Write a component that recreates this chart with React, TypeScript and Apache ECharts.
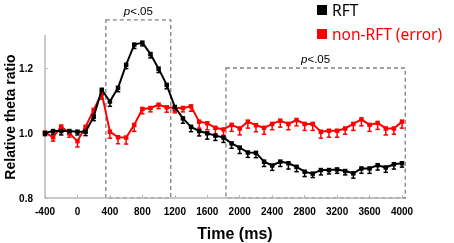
import React, { useEffect, useRef } from "react";
import * as echarts from "echarts";

const times = [
  -400, -300, -200, -100, 0, 100, 200, 300, 400, 500, 600, 700, 800, 900, 1000,
  1100, 1200, 1300, 1400, 1500, 1600, 1700, 1800, 1900, 2000, 2100, 2200, 2300,
  2400, 2500, 2600, 2700, 2800, 2900, 3000, 3100, 3200, 3300, 3400, 3500, 3600,
  3700, 3800, 3900, 4000,
];

const rftValues = [
  1.0, 1.006, 1.006, 1.006, 1.004, 1.004, 1.05, 1.133, 1.097, 1.139, 1.21, 1.272,
  1.278, 1.243, 1.198, 1.148, 1.08, 1.045, 1.019, 1.006, 0.999, 0.992, 0.986,
  0.968, 0.955, 0.94, 0.939, 0.912, 0.9, 0.912, 0.907, 0.896, 0.881, 0.875,
  0.886, 0.886, 0.888, 0.883, 0.876, 0.891, 0.891, 0.901, 0.894, 0.904, 0.907,
];

const rftErrors = [
  0.008, 0.01, 0.012, 0.01, 0.01, 0.012, 0.012, 0.015, 0.015, 0.012, 0.012,
  0.012, 0.01, 0.012, 0.012, 0.012, 0.012, 0.015, 0.015, 0.015, 0.018, 0.015,
  0.015, 0.015, 0.018, 0.015, 0.015, 0.015, 0.015, 0.015, 0.018, 0.015, 0.015,
  0.012, 0.015, 0.012, 0.012, 0.012, 0.015, 0.015, 0.015, 0.015, 0.015, 0.015,
  0.012,
];

const nonRftValues = [
  1.001, 0.987, 1.02, 0.999, 0.975, 1.019, 1.071, 1.122, 1.004, 0.987, 0.986,
  1.025, 1.074, 1.077, 1.087, 1.079, 1.077, 1.077, 1.082, 1.035, 1.03, 1.016,
  1.011, 1.025, 1.014, 1.035, 1.024, 1.016, 1.028, 1.038, 1.028, 1.04, 1.028,
  1.028, 1.004, 1.007, 1.007, 1.014, 1.028, 1.042, 1.025, 1.031, 1.014, 1.014,
  1.035,
];

const nonRftErrors = [
  0.005, 0.012, 0.015, 0.012, 0.018, 0.015, 0.015, 0.018, 0.02, 0.02, 0.02,
  0.02, 0.015, 0.012, 0.012, 0.015, 0.015, 0.012, 0.015, 0.02, 0.02, 0.02,
  0.018, 0.02, 0.02, 0.02, 0.02, 0.02, 0.018, 0.02, 0.018, 0.018, 0.02, 0.02,
  0.02, 0.02, 0.02, 0.018, 0.02, 0.02, 0.02, 0.02, 0.02, 0.018, 0.02,
];

// significance windows: [startMs, top, endMs, bottom]
const sigBoxes = [
  [350, 1.348, 1150, 0.8],
  [1830, 1.2, 4040, 0.8],
];
const sigLabel = "<.05";

const yTicks = [0.8, 1.0, 1.2];

const seriesNames = ["RFT", "non-RFT (error)"];
const seriesColors = ["#000000", "#ff0000"];

function errorBarSeries(values: number[], errors: number[], color: string) {
  return {
    type: "custom",
    silent: true,
    z: 1,
    data: times.map((t, i) => [t, values[i], errors[i]]),
    encode: { x: 0, y: 1 },
    renderItem: (_p: any, api: any) => {
      const x = api.value(0);
      const y = api.value(1);
      const e = api.value(2);
      const p0 = api.coord([x, y]);
      const p1 = api.coord([x, y - e]);
      return {
        type: "group",
        children: [
          {
            type: "line",
            shape: { x1: p0[0], y1: p0[1], x2: p1[0], y2: p1[1] },
            style: { stroke: color, lineWidth: 1.5 },
          },
          {
            type: "line",
            shape: { x1: p1[0] - 2.2, y1: p1[1], x2: p1[0] + 2.2, y2: p1[1] },
            style: { stroke: color, lineWidth: 1.5 },
          },
        ],
      };
    },
  };
}

export default function App() {
  const ref = useRef<HTMLDivElement>(null);

  useEffect(() => {
    if (!ref.current) return;
    const chart = echarts.init(ref.current, null, { renderer: "svg" });
    const tickFont = {
      fontFamily: '"Liberation Sans Narrow", "Liberation Sans", Arial, sans-serif',
      fontWeight: "bold" as const,
      fontSize: 10,
      color: "#000",
    };
    chart.setOption({
      animation: false,
      grid: { left: 45, right: 52, top: 35.5, bottom: 45, containLabel: false },
      legend: {
        orient: "vertical",
        left: 317,
        top: 2,
        padding: 0,
        itemWidth: 10,
        itemHeight: 10,
        itemGap: 8,
        icon: "rect",
        textStyle: {
          fontFamily: '"Noto Sans", sans-serif',
          fontSize: 15.5,
          lineHeight: 16,
        },
        data: [
          { name: seriesNames[0], textStyle: { color: seriesColors[0] } },
          { name: seriesNames[1], textStyle: { color: seriesColors[1] } },
        ],
      },
      xAxis: {
        type: "value",
        min: -400,
        max: 4000,
        interval: 400,
        splitLine: { show: false },
        axisLine: { show: true, onZero: false, lineStyle: { color: "#b8b8b8", width: 1.5 } },
        axisTick: { show: true, inside: true, length: 3, lineStyle: { color: "#b8b8b8" } },
        axisLabel: { ...tickFont, margin: 8, formatter: (v: number) => String(v) },
      },
      yAxis: {
        type: "value",
        min: 0.8,
        max: 1.3,
        interval: 0.2,
        splitLine: { show: false },
        axisLine: { show: true, onZero: false, lineStyle: { color: "#b8b8b8", width: 1.5 } },
        axisTick: {
          show: true,
          inside: true,
          length: 3,
          customValues: yTicks,
          lineStyle: { color: "#b8b8b8" },
        },
        axisLabel: {
          ...tickFont,
          margin: 12,
          customValues: yTicks,
          formatter: (v: number) => v.toFixed(1),
        },
      },
      graphic: [
        {
          type: "text",
          x: 10,
          y: 117,
          rotation: Math.PI / 2,
          style: {
            text: "Relative theta ratio",
            fontFamily: '"Liberation Sans", Arial, sans-serif',
            fontWeight: "bold",
            fontSize: 14,
            fill: "#000",
            align: "center",
            verticalAlign: "middle",
          },
        },
        {
          type: "text",
          x: 235,
          y: 233,
          style: {
            text: "Time (ms)",
            fontFamily: '"Liberation Sans", Arial, sans-serif',
            fontWeight: "bold",
            fontSize: 16,
            fill: "#000",
            align: "center",
            verticalAlign: "middle",
          },
        },
      ],
      series: [
        {
          type: "custom",
          silent: true,
          z: 0,
          clip: false,
          data: sigBoxes,
          encode: { x: [0, 2], y: [1, 3] },
          renderItem: (_p: any, api: any) => {
            const a = api.coord([api.value(0), api.value(1)]);
            const b = api.coord([api.value(2), api.value(3)]);
            return {
              type: "group",
              children: [
                {
                  type: "rect",
                  shape: { x: a[0], y: a[1], width: b[0] - a[0], height: b[1] - a[1] },
                  style: { fill: "none", stroke: "#808080", lineWidth: 1.3, lineDash: [4, 3] },
                },
                {
                  type: "text",
                  x: (a[0] + b[0]) / 2,
                  y: a[1] - 3,
                  style: {
                    text: "{i|p}" + sigLabel,
                    align: "center",
                    verticalAlign: "bottom",
                    fontFamily: '"Liberation Sans", Arial, sans-serif',
                    fontSize: 11.5,
                    fill: "#000",
                    rich: {
                      i: {
                        fontStyle: "italic",
                        fontFamily: '"Liberation Sans", Arial, sans-serif',
                        fontSize: 11.5,
                        fill: "#000",
                      },
                    },
                  },
                },
              ],
            };
          },
        },
        errorBarSeries(rftValues, rftErrors, seriesColors[0]),
        errorBarSeries(nonRftValues, nonRftErrors, seriesColors[1]),
        {
          name: seriesNames[0],
          type: "line",
          z: 3,
          data: times.map((t, i) => [t, rftValues[i]]),
          color: seriesColors[0],
          lineStyle: { width: 2, color: seriesColors[0] },
          symbol: "rect",
          symbolSize: 4.5,
          itemStyle: { color: seriesColors[0] },
        },
        {
          name: seriesNames[1],
          type: "line",
          z: 2,
          data: times.map((t, i) => [t, nonRftValues[i]]),
          color: seriesColors[1],
          lineStyle: { width: 2, color: seriesColors[1] },
          symbol: "rect",
          symbolSize: 4.5,
          itemStyle: { color: seriesColors[1] },
        },
      ],
    });
    return () => chart.dispose();
  }, []);

  return (
    <div
      ref={ref}
      style={{ position: "fixed", left: 0, top: 0, width: 454, height: 243 }}
    />
  );
}
